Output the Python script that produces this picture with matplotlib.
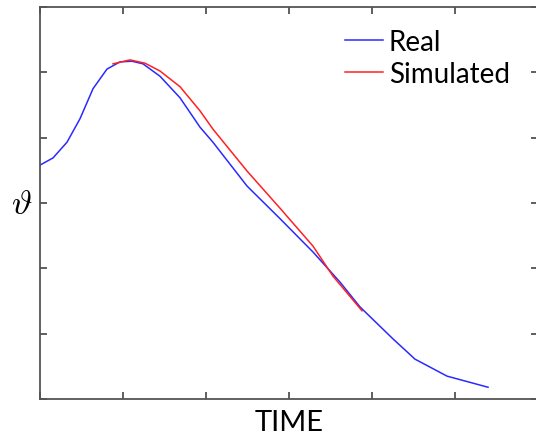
import matplotlib
matplotlib.use("Agg")
import matplotlib.pyplot as plt
import numpy as np

# values (axis units = tick spacing)
real_x = [0.0, 0.157, 0.325, 0.482, 0.639, 0.807, 0.964, 1.108, 1.241, 1.446, 1.687,
          1.928, 2.084, 2.494, 2.892, 3.289, 3.614, 3.855, 4.253, 4.518, 4.904, 5.398]
real_y = [3.58, 3.69, 3.93, 4.29, 4.75, 5.05, 5.16, 5.17, 5.13, 4.94, 4.61,
          4.16, 3.93, 3.26, 2.76, 2.25, 1.79, 1.41, 0.92, 0.61, 0.35, 0.18]

sim_x = [0.88, 1.084, 1.265, 1.446, 1.687, 1.928, 2.084, 2.494, 2.892, 3.289, 3.53, 3.88]
sim_y = [5.13, 5.19, 5.14, 5.02, 4.78, 4.41, 4.13, 3.49, 2.92, 2.34, 1.88, 1.35]

ticks = [0, 1, 2, 3, 4, 5, 6]

plt.rcParams['mathtext.fontset'] = 'cm'

fig = plt.figure(figsize=(5.36, 4.35), dpi=100)
ax = fig.add_axes([40/536, 35/435, 498/536, 392/435])

ax.plot(real_x, real_y, color='#2a2aff', linewidth=1.1, label='Real')
ax.plot(sim_x, sim_y, color='#ff2020', linewidth=1.1, label='Simulated')

ax.set_xlim(0, 6)
ax.set_ylim(0, 6)
ax.set_xticks(ticks)
ax.set_yticks(ticks)
ax.tick_params(direction='in', length=5, width=1.2, color='#444444',
               top=True, right=True, labelbottom=False, labelleft=False)
for sp in ax.spines.values():
    sp.set_color('#555555')
    sp.set_linewidth(1.3)

ax.set_xlabel('TIME', fontsize=21, family='Lato', labelpad=7)
fig.text(22/536, 1 - 204/435, r'$\vartheta$', fontsize=25, ha='center', va='center')

ax.legend(loc='upper left', bbox_to_anchor=((345-40)/498, (400-30)/392), frameon=False,
          borderpad=0, borderaxespad=0, handlelength=1.37, handletextpad=0.2,
          labelspacing=0.2, prop={'family': 'Lato', 'size': 20})

fig.savefig('out.png', dpi=100)
